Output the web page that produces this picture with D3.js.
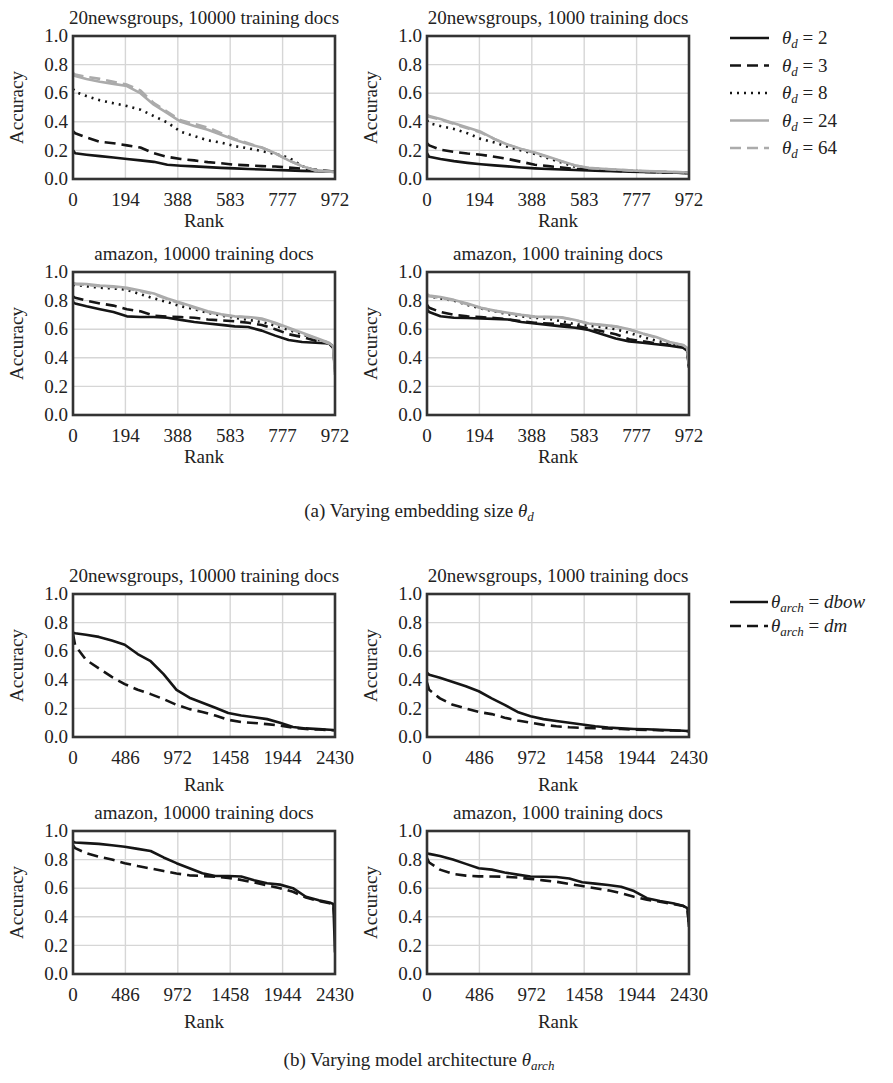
<!DOCTYPE html>
<html>
<head>
<meta charset="utf-8">
<script src="https://cdn.jsdelivr.net/npm/d3@7"></script>
<style>
  body { margin: 0; background: #fff; }
</style>
</head>
<body>
<div id="my_dataviz"></div>
<script>
// rank grids for both figures
const ranksA = [0, 8, 50, 100, 150, 200, 250, 300, 350, 400, 450, 500, 550, 600, 650, 700, 750, 800, 850, 900, 950, 965, 972];
const ranksB = [0, 20, 120, 240, 360, 480, 600, 720, 840, 960, 1080, 1200, 1320, 1440, 1560, 1680, 1800, 1920, 2040, 2160, 2280, 2380, 2415, 2430];

const xTicksA = ["0", "194", "388", "583", "777", "972"];
const xTicksB = ["0", "486", "972", "1458", "1944", "2430"];
const yTicks = [0, 0.2, 0.4, 0.6, 0.8, 1.0];

// (a) embedding size: theta_d = 2, 3, 8, 24, 64
const dimLabels = ["2", "3", "8", "24", "64"];

const ng10k_d = [
  [0.20, 0.18, 0.17, 0.16, 0.15, 0.14, 0.13, 0.12, 0.10, 0.093, 0.088, 0.083, 0.078, 0.074, 0.07, 0.066, 0.063, 0.06, 0.057, 0.055, 0.053, 0.052, 0.05],
  [0.335, 0.32, 0.29, 0.26, 0.25, 0.235, 0.22, 0.18, 0.155, 0.14, 0.13, 0.118, 0.11, 0.10, 0.095, 0.09, 0.087, 0.08, 0.072, 0.065, 0.055, 0.052, 0.05],
  [0.63, 0.61, 0.58, 0.55, 0.53, 0.51, 0.485, 0.44, 0.395, 0.33, 0.30, 0.27, 0.255, 0.23, 0.215, 0.195, 0.175, 0.15, 0.09, 0.06, 0.052, 0.05, 0.048],
  [0.73, 0.72, 0.70, 0.68, 0.665, 0.65, 0.60, 0.52, 0.46, 0.40, 0.37, 0.345, 0.31, 0.275, 0.245, 0.22, 0.18, 0.13, 0.09, 0.06, 0.052, 0.05, 0.048],
  [0.74, 0.73, 0.715, 0.70, 0.68, 0.66, 0.62, 0.53, 0.47, 0.41, 0.385, 0.36, 0.32, 0.28, 0.25, 0.22, 0.18, 0.13, 0.09, 0.06, 0.052, 0.05, 0.048]
];
const ng1k_d = [
  [0.18, 0.155, 0.14, 0.125, 0.113, 0.103, 0.095, 0.088, 0.08, 0.074, 0.07, 0.066, 0.063, 0.06, 0.057, 0.054, 0.051, 0.049, 0.047, 0.045, 0.043, 0.042, 0.04],
  [0.25, 0.235, 0.205, 0.19, 0.178, 0.17, 0.155, 0.14, 0.12, 0.10, 0.09, 0.08, 0.07, 0.065, 0.06, 0.056, 0.052, 0.05, 0.047, 0.045, 0.043, 0.042, 0.04],
  [0.41, 0.39, 0.37, 0.35, 0.32, 0.28, 0.255, 0.225, 0.20, 0.175, 0.145, 0.115, 0.085, 0.072, 0.066, 0.062, 0.058, 0.054, 0.05, 0.047, 0.044, 0.042, 0.04],
  [0.45, 0.44, 0.42, 0.39, 0.36, 0.33, 0.28, 0.24, 0.21, 0.185, 0.155, 0.125, 0.095, 0.078, 0.072, 0.066, 0.06, 0.056, 0.053, 0.05, 0.047, 0.045, 0.044],
  [0.445, 0.435, 0.415, 0.385, 0.355, 0.325, 0.28, 0.24, 0.21, 0.183, 0.153, 0.123, 0.094, 0.077, 0.071, 0.065, 0.06, 0.056, 0.053, 0.05, 0.047, 0.045, 0.044]
];
const amz10k_d = [
  [0.79, 0.78, 0.76, 0.74, 0.72, 0.69, 0.685, 0.685, 0.68, 0.665, 0.65, 0.64, 0.63, 0.62, 0.615, 0.59, 0.555, 0.525, 0.51, 0.505, 0.5, 0.47, 0.32],
  [0.83, 0.82, 0.80, 0.78, 0.765, 0.74, 0.725, 0.695, 0.688, 0.685, 0.68, 0.668, 0.662, 0.655, 0.645, 0.63, 0.60, 0.565, 0.545, 0.52, 0.50, 0.48, 0.33],
  [0.91, 0.91, 0.90, 0.89, 0.885, 0.875, 0.845, 0.815, 0.79, 0.76, 0.74, 0.715, 0.695, 0.68, 0.665, 0.65, 0.625, 0.595, 0.565, 0.53, 0.505, 0.48, 0.35],
  [0.925, 0.92, 0.915, 0.905, 0.90, 0.89, 0.87, 0.85, 0.815, 0.785, 0.755, 0.725, 0.705, 0.69, 0.685, 0.675, 0.645, 0.61, 0.575, 0.54, 0.505, 0.48, 0.28],
  [0.92, 0.915, 0.91, 0.90, 0.895, 0.885, 0.865, 0.845, 0.81, 0.78, 0.75, 0.72, 0.70, 0.688, 0.682, 0.67, 0.64, 0.605, 0.57, 0.535, 0.50, 0.475, 0.30]
];
const amz1k_d = [
  [0.74, 0.72, 0.69, 0.68, 0.678, 0.675, 0.672, 0.668, 0.65, 0.64, 0.63, 0.62, 0.61, 0.595, 0.565, 0.535, 0.515, 0.505, 0.495, 0.485, 0.47, 0.45, 0.33],
  [0.77, 0.75, 0.72, 0.70, 0.69, 0.685, 0.678, 0.67, 0.655, 0.645, 0.64, 0.635, 0.625, 0.605, 0.585, 0.565, 0.53, 0.515, 0.50, 0.49, 0.475, 0.455, 0.34],
  [0.84, 0.83, 0.815, 0.80, 0.77, 0.745, 0.725, 0.705, 0.69, 0.68, 0.672, 0.655, 0.635, 0.625, 0.615, 0.60, 0.575, 0.545, 0.52, 0.50, 0.48, 0.46, 0.34],
  [0.845, 0.835, 0.825, 0.805, 0.78, 0.75, 0.73, 0.715, 0.70, 0.688, 0.686, 0.683, 0.665, 0.64, 0.63, 0.62, 0.60, 0.57, 0.545, 0.51, 0.49, 0.47, 0.35],
  [0.84, 0.83, 0.82, 0.80, 0.775, 0.748, 0.728, 0.712, 0.698, 0.686, 0.684, 0.68, 0.662, 0.638, 0.628, 0.618, 0.598, 0.568, 0.542, 0.508, 0.488, 0.468, 0.34]
];

// (b) architecture: dbow, dm
const archLabels = ["dbow", "dm"];

const ng10k_arch = [
  [0.73, 0.725, 0.715, 0.70, 0.675, 0.645, 0.58, 0.53, 0.44, 0.33, 0.275, 0.24, 0.205, 0.168, 0.15, 0.138, 0.125, 0.1, 0.07, 0.06, 0.055, 0.051, 0.049, 0.047],
  [0.72, 0.64, 0.54, 0.48, 0.42, 0.37, 0.33, 0.30, 0.265, 0.225, 0.195, 0.175, 0.15, 0.12, 0.105, 0.098, 0.09, 0.08, 0.065, 0.056, 0.052, 0.048, 0.047, 0.045]
];
const ng1k_arch = [
  [0.45, 0.435, 0.415, 0.385, 0.355, 0.32, 0.27, 0.225, 0.175, 0.145, 0.125, 0.112, 0.10, 0.088, 0.075, 0.066, 0.06, 0.056, 0.054, 0.05, 0.047, 0.044, 0.042, 0.04],
  [0.38, 0.33, 0.27, 0.225, 0.20, 0.175, 0.16, 0.135, 0.115, 0.10, 0.085, 0.075, 0.068, 0.064, 0.062, 0.06, 0.056, 0.052, 0.05, 0.047, 0.045, 0.043, 0.041, 0.04]
];
const amz10k_arch = [
  [0.925, 0.92, 0.915, 0.91, 0.90, 0.89, 0.875, 0.86, 0.815, 0.775, 0.74, 0.705, 0.685, 0.685, 0.682, 0.655, 0.635, 0.625, 0.60, 0.54, 0.515, 0.50, 0.49, 0.15],
  [0.90, 0.88, 0.845, 0.82, 0.80, 0.775, 0.755, 0.738, 0.72, 0.703, 0.69, 0.685, 0.68, 0.672, 0.658, 0.64, 0.62, 0.60, 0.575, 0.535, 0.51, 0.495, 0.485, 0.35]
];
const amz1k_arch = [
  [0.845, 0.84, 0.825, 0.80, 0.77, 0.74, 0.73, 0.71, 0.695, 0.682, 0.68, 0.678, 0.668, 0.642, 0.632, 0.622, 0.61, 0.58, 0.53, 0.51, 0.495, 0.475, 0.46, 0.33],
  [0.81, 0.78, 0.73, 0.70, 0.688, 0.683, 0.682, 0.68, 0.675, 0.665, 0.655, 0.645, 0.63, 0.615, 0.60, 0.585, 0.565, 0.54, 0.52, 0.505, 0.49, 0.475, 0.46, 0.34]
];

// line styles
const BLACK = "#151515", GREY = "#ababab";
const stylesA = [
  { color: BLACK, dash: null },
  { color: BLACK, dash: "11,6" },
  { color: BLACK, dash: "2,5" },
  { color: GREY, dash: null },
  { color: GREY, dash: "11,6" }
];
const stylesB = [
  { color: BLACK, dash: null },
  { color: BLACK, dash: "11,6" }
];

const width = 262, height = 143;
const FS = 19;
const FONT = "'Liberation Serif', 'DejaVu Serif', 'Times New Roman', serif";

const svg = d3.select("#my_dataviz")
  .append("svg")
  .attr("width", 893)
  .attr("height", 1083)
  .attr("font-family", FONT)
  .style("font-family", FONT);

const panels = [
  { left: 73, top: 36, title: "20newsgroups, 10000 training docs", ranks: ranksA, ticks: xTicksA, max: 972, data: ng10k_d, styles: stylesA, tickGap: 27, labelGap: 48 },
  { left: 427, top: 36, title: "20newsgroups, 1000 training docs", ranks: ranksA, ticks: xTicksA, max: 972, data: ng1k_d, styles: stylesA, tickGap: 27, labelGap: 48 },
  { left: 73, top: 272, title: "amazon, 10000 training docs", ranks: ranksA, ticks: xTicksA, max: 972, data: amz10k_d, styles: stylesA, tickGap: 27, labelGap: 48 },
  { left: 427, top: 272, title: "amazon, 1000 training docs", ranks: ranksA, ticks: xTicksA, max: 972, data: amz1k_d, styles: stylesA, tickGap: 27, labelGap: 48 },
  { left: 73, top: 594, title: "20newsgroups, 10000 training docs", ranks: ranksB, ticks: xTicksB, max: 2430, data: ng10k_arch, styles: stylesB, tickGap: 27, labelGap: 54 },
  { left: 427, top: 594, title: "20newsgroups, 1000 training docs", ranks: ranksB, ticks: xTicksB, max: 2430, data: ng1k_arch, styles: stylesB, tickGap: 27, labelGap: 54 },
  { left: 73, top: 831, title: "amazon, 10000 training docs", ranks: ranksB, ticks: xTicksB, max: 2430, data: amz10k_arch, styles: stylesB, tickGap: 27, labelGap: 54 },
  { left: 427, top: 831, title: "amazon, 1000 training docs", ranks: ranksB, ticks: xTicksB, max: 2430, data: amz1k_arch, styles: stylesB, tickGap: 27, labelGap: 54 }
];

panels.forEach(function (p, pi) {
  const g = svg.append("g").attr("transform", `translate(${p.left},${p.top})`);

  const x = d3.scaleLinear().domain([0, p.max]).range([0, width]);
  const y = d3.scaleLinear().domain([0, 1]).range([height, 0]);
  const tickPos = p.ticks.map((t, i) => i * p.max / (p.ticks.length - 1));

  // grid
  g.append("g")
    .selectAll("line")
    .data(tickPos)
    .join("line")
    .attr("x1", (d) => x(d)).attr("x2", (d) => x(d))
    .attr("y1", 0).attr("y2", height)
    .attr("stroke", "#d6d6d6").attr("stroke-width", 1.4);
  g.append("g")
    .selectAll("line")
    .data(yTicks)
    .join("line")
    .attr("y1", (d) => y(d)).attr("y2", (d) => y(d))
    .attr("x1", 0).attr("x2", width)
    .attr("stroke", "#d6d6d6").attr("stroke-width", 1.4);

  // x tick labels
  g.append("g")
    .selectAll("text")
    .data(tickPos)
    .join("text")
    .attr("x", (d) => x(d))
    .attr("y", height + p.tickGap)
    .attr("text-anchor", "middle")
    .attr("fill", "#222")
    .style("font-size", FS + "px")
    .text((d, i) => p.ticks[i]);

  // y tick labels
  g.append("g")
    .selectAll("text")
    .data(yTicks)
    .join("text")
    .attr("x", -5)
    .attr("y", (d) => y(d))
    .attr("dy", "0.33em")
    .attr("text-anchor", "end")
    .attr("fill", "#222")
    .style("font-size", FS + "px")
    .text((d) => d.toFixed(1));

  // clip
  svg.append("clipPath").attr("id", "clip" + pi)
    .append("rect").attr("x", 0).attr("y", 0).attr("width", width).attr("height", height);

  const line = d3.line()
    .x((d, i) => x(p.ranks[i]))
    .y((d) => y(d));

  g.append("g").attr("clip-path", `url(#clip${pi})`)
    .selectAll("path")
    .data(p.data)
    .join("path")
    .attr("d", (d) => line(d))
    .attr("fill", "none")
    .attr("stroke", (d, i) => p.styles[i].color)
    .attr("stroke-width", 2.6)
    .attr("stroke-dasharray", (d, i) => p.styles[i].dash)
    .attr("stroke-linejoin", "round");

  // frame
  g.append("rect")
    .attr("width", width).attr("height", height)
    .attr("fill", "none")
    .attr("stroke", "#333").attr("stroke-width", 2.6);

  // title
  g.append("text")
    .attr("x", width / 2).attr("y", -12)
    .attr("text-anchor", "middle")
    .attr("fill", "#222")
    .style("font-size", FS + "px")
    .text(p.title);

  // axis labels
  g.append("text")
    .attr("x", width / 2).attr("y", height + p.labelGap)
    .attr("text-anchor", "middle")
    .attr("fill", "#222")
    .style("font-size", FS + "px")
    .text("Rank");
  g.append("text")
    .attr("transform", `translate(-50,${height / 2})rotate(-90)`)
    .attr("text-anchor", "middle")
    .attr("fill", "#222")
    .style("font-size", FS + "px")
    .text("Accuracy");
});

// legends
function thetaLabel(sel, sub, value, italicValue) {
  sel.append("tspan").style("font-style", "italic").text("θ");
  sel.append("tspan").style("font-style", "italic").style("font-size", "13px").attr("dy", 4).text(sub);
  sel.append("tspan").attr("dy", -4).text(" = ");
  sel.append("tspan").style("font-style", italicValue ? "italic" : "normal").text(value);
}

const legA = svg.append("g");
dimLabels.forEach(function (lab, i) {
  const cy = 38 + i * 27.5;
  legA.append("line")
    .attr("x1", 730).attr("x2", 769).attr("y1", cy).attr("y2", cy)
    .attr("stroke", stylesA[i].color).attr("stroke-width", 2.6)
    .attr("stroke-dasharray", stylesA[i].dash);
  const t = legA.append("text").attr("x", 782).attr("y", cy + 6).attr("fill", "#222").style("font-size", FS + "px");
  thetaLabel(t, "d", lab, false);
});

const legB = svg.append("g");
archLabels.forEach(function (lab, i) {
  const cy = 602 + i * 24;
  legB.append("line")
    .attr("x1", 730).attr("x2", 768).attr("y1", cy).attr("y2", cy)
    .attr("stroke", stylesB[i].color).attr("stroke-width", 2.6)
    .attr("stroke-dasharray", stylesB[i].dash);
  const t = legB.append("text").attr("x", 771).attr("y", cy + 6).attr("fill", "#222").style("font-size", FS + "px");
  thetaLabel(t, "arch", lab, true);
});

// captions
const capA = svg.append("text").attr("x", 419).attr("y", 517).attr("text-anchor", "middle").attr("fill", "#222").style("font-size", FS + "px");
capA.append("tspan").text("(a) Varying embedding size ");
capA.append("tspan").style("font-style", "italic").text("θ");
capA.append("tspan").style("font-style", "italic").style("font-size", "13px").attr("dy", 4).text("d");

const capB = svg.append("text").attr("x", 419).attr("y", 1066).attr("text-anchor", "middle").attr("fill", "#222").style("font-size", FS + "px");
capB.append("tspan").text("(b) Varying model architecture ");
capB.append("tspan").style("font-style", "italic").text("θ");
capB.append("tspan").style("font-style", "italic").style("font-size", "13px").attr("dy", 4).text("arch");
</script>
</body>
</html>
